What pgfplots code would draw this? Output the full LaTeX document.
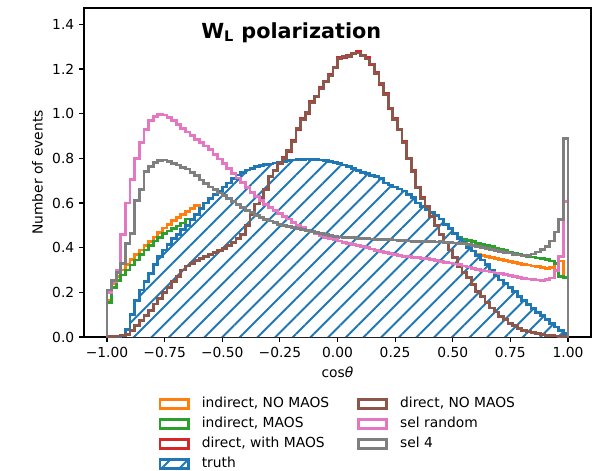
\documentclass[border=0pt]{standalone}
\usepackage{fontspec}
\setmainfont{DejaVu Sans}
\usepackage{pgfplots}
\usepackage{pgfplotstable}
\pgfplotsset{compat=1.18}
\usetikzlibrary{patterns.meta}

\definecolor{cOrange}{HTML}{FF7F0E}
\definecolor{cGreen}{HTML}{2CA02C}
\definecolor{cRed}{HTML}{D62728}
\definecolor{cBlue}{HTML}{1F77B4}
\definecolor{cBrown}{HTML}{8C564B}
\definecolor{cPink}{HTML}{E377C2}
\definecolor{cGray}{HTML}{7F7F7F}

% left bin edges, 100 bins of width 0.02
\pgfplotstableread{
x or gr rd tr br pk gy
-1.00 0 0 0 0 0 0 0
-1.00 0.165 0.155 0.002 0.000 0.002 0.200 0.210
-0.98 0.240 0.222 0.003 0.000 0.003 0.248 0.254
-0.96 0.272 0.252 0.004 0.003 0.004 0.300 0.290
-0.94 0.300 0.278 0.006 0.008 0.006 0.460 0.330
-0.92 0.325 0.300 0.012 0.035 0.012 0.600 0.420
-0.90 0.348 0.322 0.030 0.100 0.030 0.705 0.463
-0.88 0.370 0.345 0.050 0.165 0.050 0.800 0.610
-0.86 0.390 0.368 0.075 0.210 0.075 0.870 0.660
-0.84 0.410 0.390 0.097 0.250 0.097 0.928 0.740
-0.82 0.428 0.410 0.120 0.285 0.120 0.970 0.762
-0.80 0.448 0.430 0.148 0.325 0.148 0.988 0.782
-0.78 0.468 0.447 0.172 0.360 0.172 0.995 0.790
-0.76 0.488 0.462 0.198 0.390 0.198 0.994 0.792
-0.74 0.505 0.475 0.222 0.415 0.222 0.983 0.785
-0.72 0.520 0.486 0.250 0.440 0.250 0.968 0.776
-0.70 0.535 0.497 0.272 0.460 0.272 0.950 0.770
-0.68 0.550 0.510 0.300 0.480 0.300 0.935 0.760
-0.66 0.563 0.528 0.318 0.500 0.318 0.918 0.752
-0.64 0.575 0.520 0.330 0.525 0.330 0.902 0.738
-0.62 0.588 0.535 0.342 0.550 0.342 0.885 0.724
-0.60 0.570 0.545 0.352 0.575 0.352 0.872 0.703
-0.58 0.585 0.550 0.362 0.600 0.362 0.855 0.688
-0.56 0.590 0.553 0.370 0.620 0.370 0.838 0.672
-0.54 0.592 0.555 0.378 0.638 0.378 0.818 0.659
-0.52 0.592 0.556 0.386 0.652 0.386 0.797 0.645
-0.50 0.590 0.556 0.395 0.672 0.395 0.776 0.632
-0.48 0.588 0.555 0.408 0.690 0.408 0.755 0.620
-0.46 0.586 0.553 0.422 0.710 0.422 0.733 0.607
-0.44 0.583 0.551 0.440 0.725 0.440 0.712 0.594
-0.42 0.580 0.548 0.458 0.738 0.458 0.693 0.581
-0.40 0.577 0.545 0.505 0.748 0.500 0.668 0.567
-0.38 0.573 0.542 0.548 0.755 0.550 0.648 0.556
-0.36 0.569 0.538 0.600 0.762 0.595 0.628 0.545
-0.34 0.565 0.534 0.622 0.768 0.625 0.610 0.535
-0.32 0.561 0.530 0.666 0.772 0.660 0.594 0.527
-0.30 0.556 0.526 0.714 0.775 0.718 0.580 0.519
-0.28 0.551 0.522 0.751 0.779 0.745 0.566 0.511
-0.26 0.546 0.518 0.775 0.783 0.778 0.553 0.505
-0.24 0.541 0.514 0.806 0.787 0.800 0.540 0.499
-0.22 0.536 0.510 0.832 0.790 0.835 0.528 0.494
-0.20 0.531 0.506 0.880 0.792 0.874 0.512 0.489
-0.18 0.526 0.502 0.930 0.795 0.934 0.500 0.485
-0.16 0.521 0.498 0.981 0.794 0.975 0.489 0.482
-0.14 0.516 0.494 1.002 0.797 1.005 0.479 0.477
-0.12 0.511 0.490 1.056 0.795 1.050 0.470 0.472
-0.10 0.506 0.487 1.075 0.793 1.078 0.462 0.468
-0.08 0.501 0.484 1.119 0.792 1.113 0.454 0.463
-0.06 0.496 0.481 1.142 0.789 1.145 0.447 0.459
-0.04 0.491 0.478 1.176 0.786 1.170 0.441 0.455
-0.02 0.486 0.475 1.205 0.782 1.208 0.435 0.451
0.00 0.481 0.472 1.254 0.776 1.248 0.430 0.448
0.02 0.476 0.470 1.252 0.770 1.255 0.424 0.447
0.04 0.471 0.468 1.261 0.764 1.255 0.419 0.445
0.06 0.466 0.466 1.267 0.755 1.270 0.414 0.444
0.08 0.461 0.464 1.278 0.746 1.272 0.409 0.442
0.10 0.456 0.462 1.259 0.738 1.262 0.404 0.441
0.12 0.451 0.461 1.251 0.731 1.245 0.399 0.440
0.14 0.447 0.460 1.219 0.724 1.222 0.394 0.439
0.16 0.443 0.459 1.186 0.717 1.180 0.389 0.438
0.18 0.439 0.458 1.132 0.708 1.135 0.384 0.437
0.20 0.435 0.457 1.091 0.690 1.085 0.379 0.436
0.22 0.431 0.456 1.022 0.681 1.025 0.374 0.435
0.24 0.427 0.455 0.981 0.672 0.975 0.370 0.434
0.26 0.423 0.455 0.927 0.663 0.930 0.366 0.433
0.28 0.419 0.454 0.876 0.654 0.870 0.362 0.432
0.30 0.415 0.454 0.797 0.637 0.800 0.359 0.430
0.32 0.411 0.453 0.746 0.625 0.740 0.357 0.429
0.34 0.407 0.453 0.667 0.600 0.670 0.355 0.428
0.36 0.404 0.452 0.626 0.585 0.620 0.353 0.427
0.38 0.401 0.452 0.582 0.570 0.585 0.350 0.426
0.40 0.398 0.452 0.546 0.557 0.540 0.347 0.426
0.42 0.395 0.452 0.497 0.543 0.500 0.343 0.425
0.44 0.392 0.451 0.466 0.528 0.460 0.339 0.426
0.46 0.389 0.450 0.422 0.505 0.425 0.335 0.424
0.48 0.386 0.449 0.396 0.486 0.390 0.331 0.423
0.50 0.383 0.448 0.352 0.462 0.355 0.327 0.421
0.52 0.380 0.445 0.321 0.440 0.315 0.323 0.420
0.54 0.377 0.438 0.287 0.422 0.290 0.318 0.417
0.56 0.374 0.431 0.271 0.400 0.265 0.313 0.414
0.58 0.371 0.426 0.232 0.385 0.235 0.308 0.410
0.60 0.370 0.420 0.205 0.365 0.205 0.303 0.405
0.62 0.365 0.415 0.180 0.345 0.180 0.299 0.401
0.64 0.360 0.410 0.155 0.325 0.155 0.295 0.397
0.66 0.355 0.405 0.130 0.300 0.130 0.291 0.393
0.68 0.350 0.398 0.112 0.275 0.112 0.287 0.389
0.70 0.346 0.392 0.092 0.255 0.092 0.283 0.384
0.72 0.342 0.386 0.078 0.238 0.078 0.279 0.380
0.74 0.338 0.381 0.062 0.222 0.062 0.275 0.376
0.76 0.334 0.376 0.050 0.205 0.050 0.271 0.371
0.78 0.330 0.372 0.038 0.182 0.038 0.267 0.367
0.80 0.326 0.367 0.030 0.162 0.030 0.263 0.364
0.82 0.322 0.362 0.025 0.145 0.025 0.260 0.366
0.84 0.318 0.358 0.020 0.128 0.020 0.257 0.372
0.86 0.314 0.354 0.016 0.110 0.016 0.255 0.381
0.88 0.310 0.350 0.012 0.095 0.012 0.254 0.392
0.90 0.306 0.346 0.008 0.078 0.008 0.257 0.405
0.92 0.310 0.340 0.006 0.062 0.006 0.264 0.430
0.94 0.330 0.330 0.004 0.045 0.004 0.298 0.470
0.96 0.340 0.270 0.003 0.030 0.003 0.360 0.525
0.98 0.268 0.266 0.002 0.014 0.002 0.605 0.890
1.00 0.268 0.266 0.002 0.014 0.002 0.605 0.890
1.00 0 0 0 0 0 0 0
}\hists

\begin{document}
\begin{tikzpicture}
\path[use as bounding box] (-60.48bp,-96.48bp) rectangle (373.68bp,242.64bp);
\begin{axis}[
    at={(0,0)}, anchor=south west,
    scale only axis, width=365.04bp, height=236.88bp,
    xmin=-1.1, xmax=1.1, ymin=0, ymax=1.473,
    xtick={-1,-0.75,-0.5,-0.25,0,0.25,0.5,0.75,1},
    xticklabels={−1.00,−0.75,−0.50,−0.25,0.00,0.25,0.50,0.75,1.00},
    ytick={0,0.2,0.4,0.6,0.8,1.0,1.2,1.4},
    yticklabel style={/pgf/number format/.cd, fixed, fixed zerofill, precision=1},
    /pgf/number format/assume math mode=true,
    tick align=outside, tick pos=left, major tick length=3.5bp,
    tick style={black, line width=0.8bp},
    axis line style={line width=0.8bp},
    ticklabel style={font=\fontsize{10}{12}\selectfont},
    label style={font=\fontsize{10}{12}\selectfont},
    xlabel={cos\textit{θ}},
    ylabel={Number of events},
    const plot,
    every axis plot/.append style={line width=2pt},
    legend image code/.code={\draw[#1] (0bp,-3.4bp) rectangle (20.5bp,3.4bp);},
    legend columns=4, transpose legend,
    legend cell align=left,
    legend style={draw=none, fill=none, inner sep=0pt,
        at={(0.5,-0.179)}, anchor=north,
        font=\fontsize{10}{12}\selectfont,
        nodes={text height=7.5bp, text depth=2bp, inner sep=1bp},
        row sep=2.9bp,
        /tikz/every odd column/.append style={column sep=7.6bp},
        /tikz/every even column/.append style={column sep=19bp}},
]
\addplot[color=cOrange] table[x=x, y=or] {\hists};
\addlegendentry{indirect, NO MAOS}
\addplot[color=cGreen] table[x=x, y=gr] {\hists};
\addlegendentry{indirect, MAOS}
\addplot[color=cRed] table[x=x, y=rd] {\hists};
\addlegendentry{direct, with MAOS}
\addplot[draw=cBlue, preaction={fill=white},
    pattern={Lines[angle=45, distance=9bp, line width=1.4bp]}, pattern color=cBlue]
    table[x=x, y=tr] {\hists};
\addlegendentry{truth}
\addplot[color=cBrown] table[x=x, y=br] {\hists};
\addlegendentry{direct, NO MAOS}
\addplot[color=cPink] table[x=x, y=pk] {\hists};
\addlegendentry{sel random}
\addplot[color=cGray] table[x=x, y=gy] {\hists};
\addlegendentry{sel 4}
\node[anchor=base west, font=\fontsize{15}{17}\selectfont\bfseries]
    at (axis cs:-0.612,1.338) {W\textsubscript{L} polarization};
\end{axis}
\end{tikzpicture}
\end{document}
